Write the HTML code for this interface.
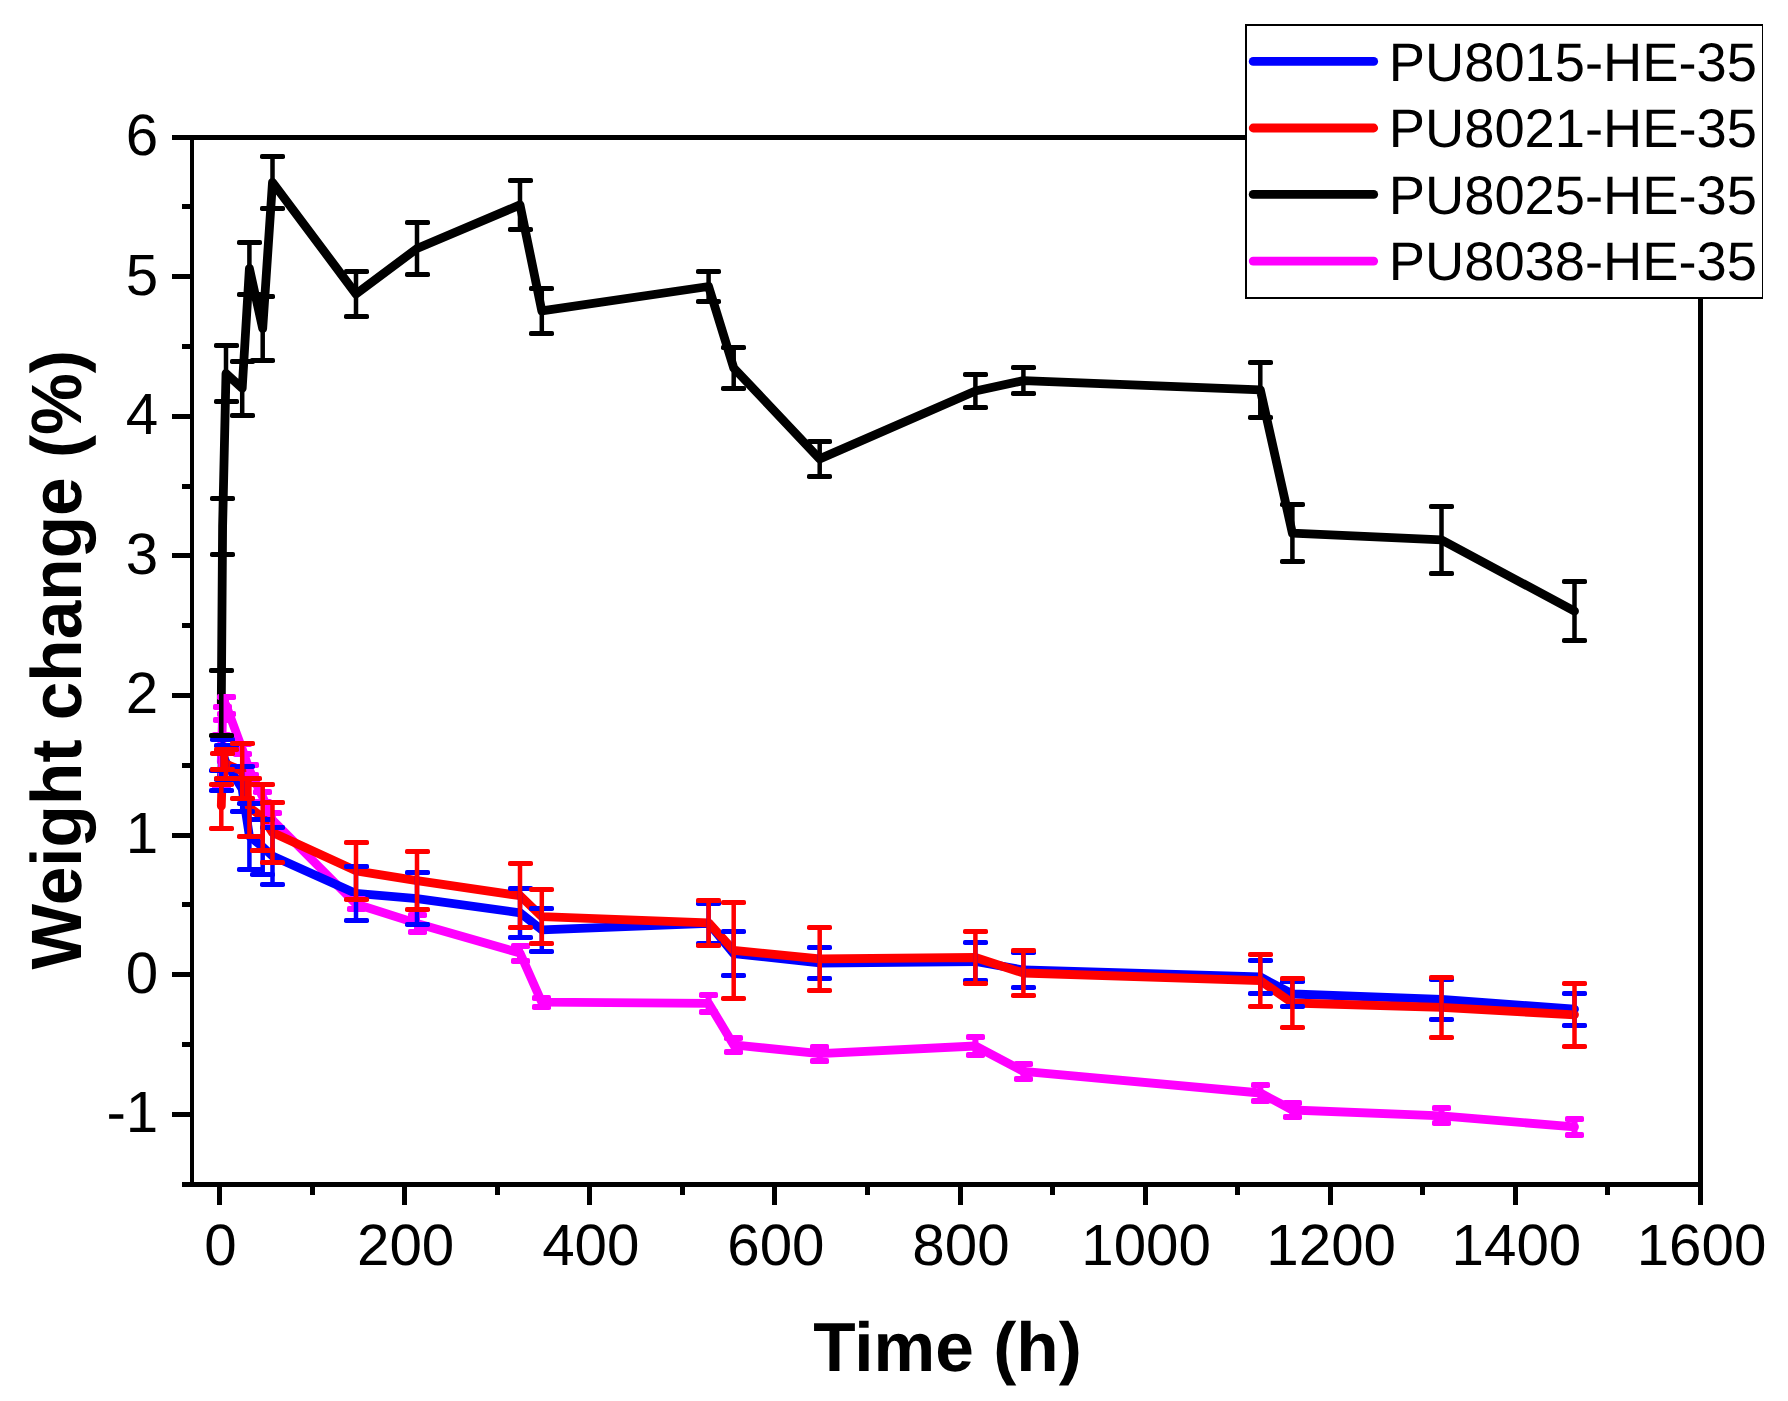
<!DOCTYPE html>
<html><head><meta charset="utf-8"><title>Weight change vs Time</title>
<style>html,body{margin:0;padding:0;background:#fff}svg{display:block}</style></head>
<body>
<svg width="1788" height="1401" viewBox="0 0 1788 1401" shape-rendering="crispEdges" text-rendering="geometricPrecision">
<rect width="1788" height="1401" fill="#fff"/>
<g shape-rendering="geometricPrecision">
<polyline points="221.3,761.7 222.6,713.4 226.0,705.0 242.2,749.0 249.4,770.0 262.7,797.0 272.5,820.0 356.0,904.0 417.0,923.4 520.0,953.0 541.8,1002.2 708.6,1003.3 733.7,1044.9 819.7,1053.6 975.4,1046.0 1023.4,1071.4 1260.3,1093.0 1292.4,1110.0 1441.5,1115.9 1574.5,1126.9" fill="none" stroke="#ff00ff" stroke-width="8.8" stroke-linejoin="round" stroke-linecap="round"/>
<polyline points="221.3,780.3 222.6,754.5 226.0,762.5 242.2,789.0 249.4,836.2 262.7,847.0 272.5,856.1 356.0,893.4 417.0,898.7 520.0,912.8 541.8,929.9 708.6,923.3 733.7,953.6 819.7,963.0 975.4,961.5 1023.4,970.0 1260.3,977.0 1292.4,994.0 1441.5,999.3 1574.5,1009.2" fill="none" stroke="#0000ff" stroke-width="8.8" stroke-linejoin="round" stroke-linecap="round"/>
<polyline points="221.3,806.0 222.6,761.2 226.0,764.0 242.2,770.9 249.4,807.5 262.7,817.3 272.5,832.5 356.0,870.8 417.0,880.6 520.0,895.7 541.8,916.7 708.6,922.8 733.7,950.4 819.7,958.9 975.4,957.5 1023.4,973.0 1260.3,980.6 1292.4,1003.0 1441.5,1007.4 1574.5,1014.8" fill="none" stroke="#ff0000" stroke-width="8.8" stroke-linejoin="round" stroke-linecap="round"/>
<polyline points="221.3,702.9 222.6,526.5 226.0,373.5 242.2,388.2 249.4,268.5 262.7,328.5 272.5,182.3 356.0,294.0 417.0,248.5 520.0,204.9 541.8,310.9 708.6,286.5 733.7,367.9 819.7,458.9 975.4,391.0 1023.4,380.6 1260.3,389.8 1292.4,533.2 1441.5,539.9 1574.5,611.1" fill="none" stroke="#000000" stroke-width="8.8" stroke-linejoin="round" stroke-linecap="round"/>
<g>
<path d="M221.3 735.4V788.0M222.6 706.9V719.9M226.0 696.5V713.5M242.2 744.0V754.0M249.4 765.0V775.0M262.7 792.0V802.0M272.5 813.0V827.0M356.0 899.0V909.0M417.0 914.8V932.0M520.0 945.5V960.5M541.8 997.8V1006.6M708.6 994.7V1011.9M733.7 1037.6V1052.2M819.7 1046.6V1060.6M975.4 1037.2V1054.8M1023.4 1063.7V1079.1M1260.3 1085.0V1101.0M1292.4 1102.9V1117.1M1441.5 1108.4V1123.4M1574.5 1118.8V1135.0" fill="none" stroke="#ff00ff" stroke-width="6"/>
<g fill="#ff00ff"><rect x="212" y="732" width="19" height="6" rx="1.8"/><rect x="212" y="785" width="19" height="6" rx="1.8"/><rect x="213" y="704" width="19" height="6" rx="1.8"/><rect x="213" y="717" width="19" height="6" rx="1.8"/><rect x="217" y="694" width="19" height="6" rx="1.8"/><rect x="217" y="711" width="19" height="6" rx="1.8"/><rect x="233" y="741" width="19" height="6" rx="1.8"/><rect x="233" y="751" width="19" height="6" rx="1.8"/><rect x="240" y="762" width="19" height="6" rx="1.8"/><rect x="240" y="772" width="19" height="6" rx="1.8"/><rect x="253" y="789" width="19" height="6" rx="1.8"/><rect x="253" y="799" width="19" height="6" rx="1.8"/><rect x="263" y="810" width="19" height="6" rx="1.8"/><rect x="263" y="824" width="19" height="6" rx="1.8"/><rect x="347" y="896" width="19" height="6" rx="1.8"/><rect x="347" y="906" width="19" height="6" rx="1.8"/><rect x="408" y="912" width="19" height="6" rx="1.8"/><rect x="408" y="929" width="19" height="6" rx="1.8"/><rect x="511" y="943" width="19" height="6" rx="1.8"/><rect x="511" y="958" width="19" height="6" rx="1.8"/><rect x="532" y="995" width="19" height="6" rx="1.8"/><rect x="532" y="1004" width="19" height="6" rx="1.8"/><rect x="699" y="992" width="19" height="6" rx="1.8"/><rect x="699" y="1009" width="19" height="6" rx="1.8"/><rect x="724" y="1035" width="19" height="6" rx="1.8"/><rect x="724" y="1049" width="19" height="6" rx="1.8"/><rect x="810" y="1044" width="19" height="6" rx="1.8"/><rect x="810" y="1058" width="19" height="6" rx="1.8"/><rect x="966" y="1034" width="19" height="6" rx="1.8"/><rect x="966" y="1052" width="19" height="6" rx="1.8"/><rect x="1014" y="1061" width="19" height="6" rx="1.8"/><rect x="1014" y="1076" width="19" height="6" rx="1.8"/><rect x="1251" y="1082" width="19" height="6" rx="1.8"/><rect x="1251" y="1098" width="19" height="6" rx="1.8"/><rect x="1283" y="1100" width="19" height="6" rx="1.8"/><rect x="1283" y="1114" width="19" height="6" rx="1.8"/><rect x="1432" y="1105" width="19" height="6" rx="1.8"/><rect x="1432" y="1120" width="19" height="6" rx="1.8"/><rect x="1565" y="1116" width="19" height="6" rx="1.8"/><rect x="1565" y="1132" width="19" height="6" rx="1.8"/></g>
<path d="M221.3 770.0V790.6M222.6 739.5V769.5M226.0 745.6V779.4M242.2 766.4V811.6M249.4 803.2V869.2M262.7 819.3V874.7M272.5 827.6V884.6M356.0 866.5V920.3M417.0 872.5V924.9M520.0 888.5V937.1M541.8 908.4V951.4M708.6 903.6V943.0M733.7 931.7V975.5M819.7 947.3V978.7M975.4 942.5V980.5M1023.4 952.7V987.3M1260.3 960.6V993.4M1292.4 981.5V1006.5M1441.5 979.3V1019.3M1574.5 993.1V1025.3" fill="none" stroke="#0000ff" stroke-width="4.5"/>
<g fill="#0000ff"><rect x="209" y="768" width="25" height="5" rx="1.8"/><rect x="209" y="788" width="25" height="5" rx="1.8"/><rect x="210" y="737" width="25" height="5" rx="1.8"/><rect x="210" y="767" width="25" height="5" rx="1.8"/><rect x="214" y="743" width="25" height="5" rx="1.8"/><rect x="214" y="777" width="25" height="5" rx="1.8"/><rect x="230" y="764" width="25" height="5" rx="1.8"/><rect x="230" y="809" width="25" height="5" rx="1.8"/><rect x="237" y="801" width="25" height="5" rx="1.8"/><rect x="237" y="867" width="25" height="5" rx="1.8"/><rect x="250" y="817" width="25" height="5" rx="1.8"/><rect x="250" y="872" width="25" height="5" rx="1.8"/><rect x="260" y="825" width="25" height="5" rx="1.8"/><rect x="260" y="882" width="25" height="5" rx="1.8"/><rect x="344" y="864" width="25" height="5" rx="1.8"/><rect x="344" y="918" width="25" height="5" rx="1.8"/><rect x="405" y="870" width="25" height="5" rx="1.8"/><rect x="405" y="922" width="25" height="5" rx="1.8"/><rect x="508" y="886" width="25" height="5" rx="1.8"/><rect x="508" y="935" width="25" height="5" rx="1.8"/><rect x="529" y="906" width="25" height="5" rx="1.8"/><rect x="529" y="949" width="25" height="5" rx="1.8"/><rect x="696" y="901" width="25" height="5" rx="1.8"/><rect x="696" y="941" width="25" height="5" rx="1.8"/><rect x="721" y="929" width="25" height="5" rx="1.8"/><rect x="721" y="973" width="25" height="5" rx="1.8"/><rect x="807" y="945" width="25" height="5" rx="1.8"/><rect x="807" y="976" width="25" height="5" rx="1.8"/><rect x="963" y="940" width="25" height="5" rx="1.8"/><rect x="963" y="978" width="25" height="5" rx="1.8"/><rect x="1011" y="950" width="25" height="5" rx="1.8"/><rect x="1011" y="985" width="25" height="5" rx="1.8"/><rect x="1248" y="958" width="25" height="5" rx="1.8"/><rect x="1248" y="991" width="25" height="5" rx="1.8"/><rect x="1280" y="979" width="25" height="5" rx="1.8"/><rect x="1280" y="1004" width="25" height="5" rx="1.8"/><rect x="1429" y="977" width="25" height="5" rx="1.8"/><rect x="1429" y="1017" width="25" height="5" rx="1.8"/><rect x="1562" y="991" width="25" height="5" rx="1.8"/><rect x="1562" y="1023" width="25" height="5" rx="1.8"/></g>
<path d="M221.3 784.0V828.0M222.6 753.2V769.2M226.0 749.4V778.6M242.2 743.6V798.2M249.4 778.5V836.5M262.7 784.3V850.3M272.5 802.5V862.5M356.0 842.4V899.2M417.0 851.6V909.6M520.0 863.7V927.7M541.8 889.7V943.7M708.6 900.3V945.3M733.7 902.4V998.4M819.7 927.2V990.6M975.4 931.5V983.5M1023.4 950.5V995.5M1260.3 954.6V1006.6M1292.4 978.8V1027.2M1441.5 977.4V1037.4M1574.5 983.4V1046.2" fill="none" stroke="#ff0000" stroke-width="4.5"/>
<g fill="#ff0000"><rect x="209" y="782" width="25" height="5" rx="1.8"/><rect x="209" y="826" width="25" height="5" rx="1.8"/><rect x="210" y="751" width="25" height="5" rx="1.8"/><rect x="210" y="767" width="25" height="5" rx="1.8"/><rect x="214" y="747" width="25" height="5" rx="1.8"/><rect x="214" y="776" width="25" height="5" rx="1.8"/><rect x="230" y="741" width="25" height="5" rx="1.8"/><rect x="230" y="796" width="25" height="5" rx="1.8"/><rect x="237" y="776" width="25" height="5" rx="1.8"/><rect x="237" y="834" width="25" height="5" rx="1.8"/><rect x="250" y="782" width="25" height="5" rx="1.8"/><rect x="250" y="848" width="25" height="5" rx="1.8"/><rect x="260" y="800" width="25" height="5" rx="1.8"/><rect x="260" y="860" width="25" height="5" rx="1.8"/><rect x="344" y="840" width="25" height="5" rx="1.8"/><rect x="344" y="897" width="25" height="5" rx="1.8"/><rect x="405" y="849" width="25" height="5" rx="1.8"/><rect x="405" y="907" width="25" height="5" rx="1.8"/><rect x="508" y="861" width="25" height="5" rx="1.8"/><rect x="508" y="925" width="25" height="5" rx="1.8"/><rect x="529" y="887" width="25" height="5" rx="1.8"/><rect x="529" y="941" width="25" height="5" rx="1.8"/><rect x="696" y="898" width="25" height="5" rx="1.8"/><rect x="696" y="943" width="25" height="5" rx="1.8"/><rect x="721" y="900" width="25" height="5" rx="1.8"/><rect x="721" y="996" width="25" height="5" rx="1.8"/><rect x="807" y="925" width="25" height="5" rx="1.8"/><rect x="807" y="988" width="25" height="5" rx="1.8"/><rect x="963" y="929" width="25" height="5" rx="1.8"/><rect x="963" y="981" width="25" height="5" rx="1.8"/><rect x="1011" y="948" width="25" height="5" rx="1.8"/><rect x="1011" y="993" width="25" height="5" rx="1.8"/><rect x="1248" y="952" width="25" height="5" rx="1.8"/><rect x="1248" y="1004" width="25" height="5" rx="1.8"/><rect x="1280" y="976" width="25" height="5" rx="1.8"/><rect x="1280" y="1025" width="25" height="5" rx="1.8"/><rect x="1429" y="975" width="25" height="5" rx="1.8"/><rect x="1429" y="1035" width="25" height="5" rx="1.8"/><rect x="1562" y="981" width="25" height="5" rx="1.8"/><rect x="1562" y="1044" width="25" height="5" rx="1.8"/></g>
<path d="M221.3 670.2V735.6M222.6 498.8V554.2M226.0 345.3V401.7M242.2 361.0V415.4M249.4 242.5V294.5M262.7 296.7V360.3M272.5 156.4V208.2M356.0 271.5V316.5M417.0 222.5V274.5M520.0 180.4V229.4M541.8 288.4V333.4M708.6 271.4V301.6M733.7 347.4V388.4M819.7 441.3V476.5M975.4 374.5V407.5M1023.4 367.4V393.8M1260.3 362.3V417.3M1292.4 504.5V561.9M1441.5 506.5V573.3M1574.5 581.5V640.7" fill="none" stroke="#000000" stroke-width="4.5"/>
<g fill="#000000"><rect x="209" y="668" width="25" height="5" rx="1.8"/><rect x="209" y="733" width="25" height="5" rx="1.8"/><rect x="210" y="496" width="25" height="5" rx="1.8"/><rect x="210" y="552" width="25" height="5" rx="1.8"/><rect x="214" y="343" width="25" height="5" rx="1.8"/><rect x="214" y="399" width="25" height="5" rx="1.8"/><rect x="230" y="359" width="25" height="5" rx="1.8"/><rect x="230" y="413" width="25" height="5" rx="1.8"/><rect x="237" y="240" width="25" height="5" rx="1.8"/><rect x="237" y="292" width="25" height="5" rx="1.8"/><rect x="250" y="294" width="25" height="5" rx="1.8"/><rect x="250" y="358" width="25" height="5" rx="1.8"/><rect x="260" y="154" width="25" height="5" rx="1.8"/><rect x="260" y="206" width="25" height="5" rx="1.8"/><rect x="344" y="269" width="25" height="5" rx="1.8"/><rect x="344" y="314" width="25" height="5" rx="1.8"/><rect x="405" y="220" width="25" height="5" rx="1.8"/><rect x="405" y="272" width="25" height="5" rx="1.8"/><rect x="508" y="178" width="25" height="5" rx="1.8"/><rect x="508" y="227" width="25" height="5" rx="1.8"/><rect x="529" y="286" width="25" height="5" rx="1.8"/><rect x="529" y="331" width="25" height="5" rx="1.8"/><rect x="696" y="269" width="25" height="5" rx="1.8"/><rect x="696" y="299" width="25" height="5" rx="1.8"/><rect x="721" y="345" width="25" height="5" rx="1.8"/><rect x="721" y="386" width="25" height="5" rx="1.8"/><rect x="807" y="439" width="25" height="5" rx="1.8"/><rect x="807" y="474" width="25" height="5" rx="1.8"/><rect x="963" y="372" width="25" height="5" rx="1.8"/><rect x="963" y="405" width="25" height="5" rx="1.8"/><rect x="1011" y="365" width="25" height="5" rx="1.8"/><rect x="1011" y="391" width="25" height="5" rx="1.8"/><rect x="1248" y="360" width="25" height="5" rx="1.8"/><rect x="1248" y="415" width="25" height="5" rx="1.8"/><rect x="1280" y="502" width="25" height="5" rx="1.8"/><rect x="1280" y="559" width="25" height="5" rx="1.8"/><rect x="1429" y="504" width="25" height="5" rx="1.8"/><rect x="1429" y="571" width="25" height="5" rx="1.8"/><rect x="1562" y="579" width="25" height="5" rx="1.8"/><rect x="1562" y="638" width="25" height="5" rx="1.8"/></g>
</g>
</g>
<g fill="#000"><rect x="172" y="135" width="1531" height="5"/>
<rect x="182" y="1182" width="1521" height="5"/>
<rect x="190" y="135" width="4" height="1052"/>
<rect x="1698" y="135" width="5" height="1070"/>
<rect x="182" y="204" width="10" height="5"/>
<rect x="172" y="274" width="20" height="5"/>
<rect x="182" y="344" width="10" height="5"/>
<rect x="172" y="414" width="20" height="5"/>
<rect x="182" y="484" width="10" height="5"/>
<rect x="172" y="553" width="20" height="5"/>
<rect x="182" y="623" width="10" height="5"/>
<rect x="172" y="693" width="20" height="5"/>
<rect x="182" y="763" width="10" height="5"/>
<rect x="172" y="833" width="20" height="5"/>
<rect x="182" y="902" width="10" height="5"/>
<rect x="172" y="972" width="20" height="5"/>
<rect x="182" y="1042" width="10" height="5"/>
<rect x="172" y="1112" width="20" height="5"/>
<rect x="217" y="1184" width="5" height="21"/>
<rect x="310" y="1184" width="5" height="11"/>
<rect x="402" y="1184" width="5" height="21"/>
<rect x="495" y="1184" width="5" height="11"/>
<rect x="587" y="1184" width="5" height="21"/>
<rect x="680" y="1184" width="5" height="11"/>
<rect x="772" y="1184" width="5" height="21"/>
<rect x="865" y="1184" width="5" height="11"/>
<rect x="958" y="1184" width="5" height="21"/>
<rect x="1050" y="1184" width="5" height="11"/>
<rect x="1143" y="1184" width="5" height="21"/>
<rect x="1235" y="1184" width="5" height="11"/>
<rect x="1328" y="1184" width="5" height="21"/>
<rect x="1420" y="1184" width="5" height="11"/>
<rect x="1513" y="1184" width="5" height="21"/>
<rect x="1605" y="1184" width="5" height="11"/></g>
<g font-family="Liberation Sans, sans-serif" font-size="58.3" fill="#000">
<text x="220.5" y="1264.8" text-anchor="middle">0</text>
<text x="405.6" y="1264.8" text-anchor="middle">200</text>
<text x="590.8" y="1264.8" text-anchor="middle">400</text>
<text x="775.9" y="1264.8" text-anchor="middle">600</text>
<text x="961.0" y="1264.8" text-anchor="middle">800</text>
<text x="1146.1" y="1264.8" text-anchor="middle">1000</text>
<text x="1331.2" y="1264.8" text-anchor="middle">1200</text>
<text x="1516.4" y="1264.8" text-anchor="middle">1400</text>
<text x="1701.5" y="1264.8" text-anchor="middle">1600</text>
<text x="158.3" y="155.0" text-anchor="end">6</text>
<text x="158.3" y="294.6" text-anchor="end">5</text>
<text x="158.3" y="434.2" text-anchor="end">4</text>
<text x="158.3" y="573.8" text-anchor="end">3</text>
<text x="158.3" y="713.4" text-anchor="end">2</text>
<text x="158.3" y="853.0" text-anchor="end">1</text>
<text x="158.3" y="992.6" text-anchor="end">0</text>
<text x="158.3" y="1132.2" text-anchor="end">-1</text>
</g>
<g font-family="Liberation Sans, sans-serif" font-weight="bold" font-size="69.4" fill="#000">
<text x="947.5" y="1370.9" text-anchor="middle">Time (h)</text>
<text transform="translate(81.2 659.8) rotate(-90) scale(1 1.027)" text-anchor="middle">Weight change (%)</text>
</g>
<rect x="1245.75" y="24.75" width="516.5" height="273" fill="#fff" stroke="#000" stroke-width="1.5"/>
<g shape-rendering="geometricPrecision" font-family="Liberation Sans, sans-serif" font-size="54.3" fill="#000">
<line x1="1253.2" y1="61.4" x2="1373.7" y2="61.4" stroke="#0000ff" stroke-width="8.8" stroke-linecap="round"/>
<text x="1388.8" y="80.5">PU8015-HE-35</text>
<line x1="1253.2" y1="128" x2="1373.7" y2="128" stroke="#ff0000" stroke-width="8.8" stroke-linecap="round"/>
<text x="1388.8" y="147">PU8021-HE-35</text>
<line x1="1253.2" y1="194.4" x2="1373.7" y2="194.4" stroke="#000000" stroke-width="8.8" stroke-linecap="round"/>
<text x="1388.8" y="213.8">PU8025-HE-35</text>
<line x1="1253.2" y1="261.1" x2="1373.7" y2="261.1" stroke="#ff00ff" stroke-width="8.8" stroke-linecap="round"/>
<text x="1388.8" y="280.2">PU8038-HE-35</text>
</g>
</svg>
</body></html>
